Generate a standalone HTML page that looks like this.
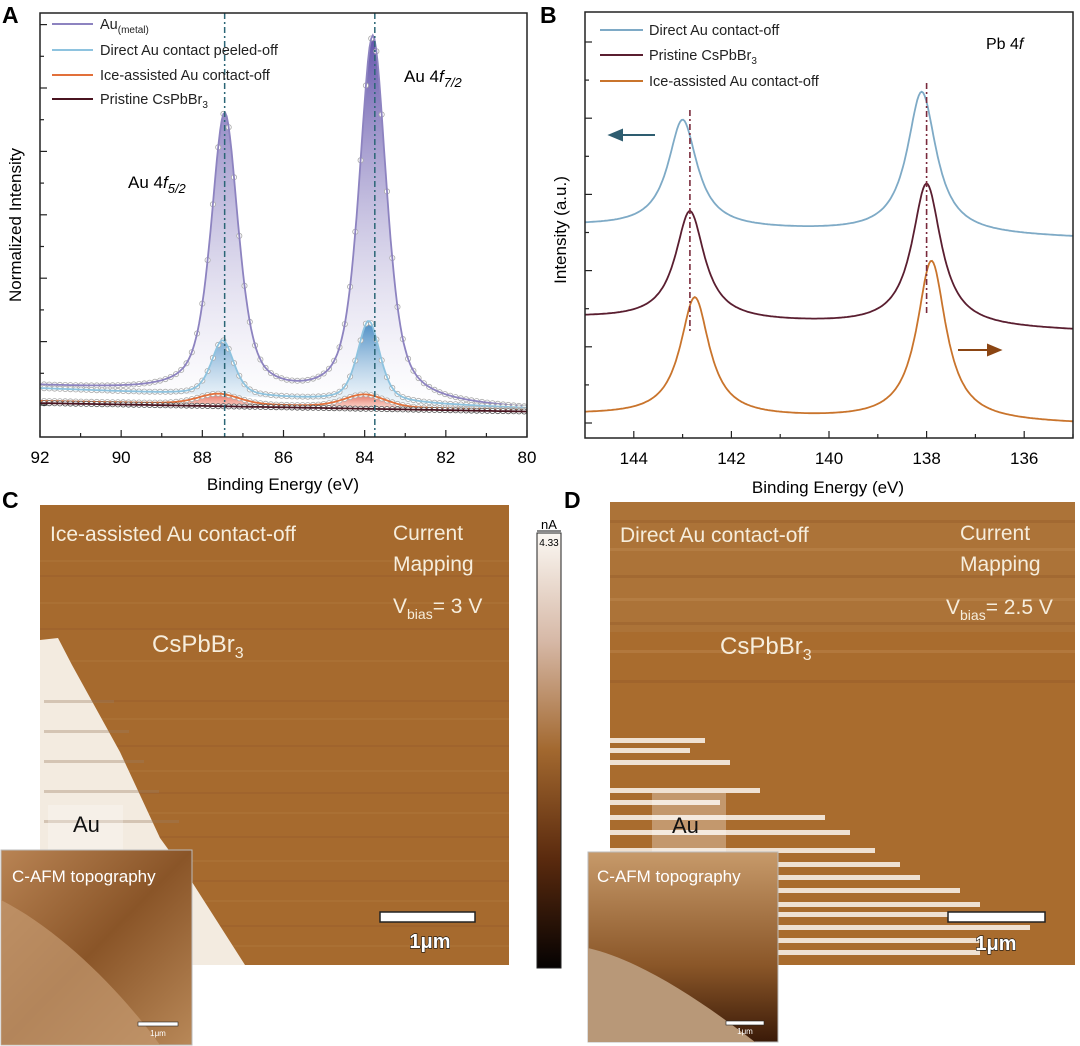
<!DOCTYPE html>
<html><head><meta charset="utf-8"><style>
html,body{margin:0;padding:0;background:#fff;}
svg{display:block;font-family:"Liberation Sans",sans-serif;}
</style></head><body>
<svg id="fig" width="1080" height="1046" viewBox="0 0 1080 1046">
<defs>
<linearGradient id="gPur" x1="0" y1="0" x2="0" y2="1"><stop offset="0" stop-color="#5a4aa6" stop-opacity="0.95"/><stop offset="1" stop-color="#ffffff" stop-opacity="0.3"/></linearGradient>
<linearGradient id="gBlu" x1="0" y1="0" x2="0" y2="1"><stop offset="0" stop-color="#3f86c0" stop-opacity="0.95"/><stop offset="1" stop-color="#e8f4fb" stop-opacity="0.4"/></linearGradient>
<linearGradient id="gRed" x1="0" y1="0" x2="0" y2="1"><stop offset="0" stop-color="#e8604a" stop-opacity="0.9"/><stop offset="1" stop-color="#f6c8bc" stop-opacity="0.6"/></linearGradient>
<linearGradient id="gCbar" x1="0" y1="0" x2="0" y2="1"><stop offset="0" stop-color="#fbf8f3"/><stop offset="0.25" stop-color="#d6b8a6"/><stop offset="0.5" stop-color="#a2682f"/><stop offset="0.75" stop-color="#5a2a0e"/><stop offset="1" stop-color="#050202"/></linearGradient>
<linearGradient id="gInC" x1="0" y1="0" x2="1" y2="1"><stop offset="0" stop-color="#b98454"/><stop offset="0.5" stop-color="#8a5528"/><stop offset="1" stop-color="#b88858"/></linearGradient>
<linearGradient id="gInD" x1="0" y1="0" x2="0" y2="1"><stop offset="0" stop-color="#c79a6a"/><stop offset="0.6" stop-color="#8a5628"/><stop offset="1" stop-color="#3a1a08"/></linearGradient>
</defs>

<text x="2" y="23" font-size="23" font-weight="bold">A</text>
<text x="540" y="23" font-size="23" font-weight="bold">B</text>
<text x="2" y="508" font-size="23" font-weight="bold">C</text>
<text x="564" y="508" font-size="23" font-weight="bold">D</text>

<g id="panelA"></g>
<g id="panelB"></g>

<g>
  <rect x="40" y="505" width="469" height="460" fill="#a66a2e"/>
  <g id="cStreaks"></g>
  <polygon points="40,640 58,638 72,665 120,752 160,838 192,882 245,965 40,965" fill="#f3ebe0"/>
  <g id="cDots"></g>
  <rect x="48" y="805" width="75" height="52" fill="#ffffff" opacity="0.25"/>
  <text x="73" y="832" font-size="22" fill="#111">Au</text>
  <text x="50" y="541" font-size="21" fill="#f6eddc">Ice-assisted Au contact-off</text>
  <text x="393" y="540" font-size="21" fill="#f6eddc">Current</text>
  <text x="393" y="571" font-size="21" fill="#f6eddc">Mapping</text>
  <text x="393" y="613" font-size="21" fill="#f6eddc">V<tspan font-size="14" dy="6">bias</tspan><tspan dy="-6">= 3 V</tspan></text>
  <text x="152" y="652" font-size="24" fill="#f6eddc">CsPbBr<tspan font-size="16" dy="6">3</tspan></text>
  <rect x="380" y="912" width="95" height="10" fill="#fff" stroke="#222" stroke-width="1.5"/>
  <text x="430" y="948" font-size="20" font-weight="bold" fill="#fff" stroke="#111" stroke-width="1.2" paint-order="stroke" text-anchor="middle">1μm</text>
  <rect x="1" y="850" width="191" height="195" fill="url(#gInC)" stroke="#bbb"/>
  <path d="M1,900 C60,930 120,990 160,1045 L1,1045 Z" fill="#c49a70" opacity="0.7"/>
  <text x="12" y="882" font-size="17" fill="#fff">C-AFM topography</text>
  <rect x="138" y="1022" width="40" height="4" fill="#fff" stroke="#222" stroke-width="0.6"/>
  <text x="158" y="1036" font-size="8" fill="#fff" text-anchor="middle">1μm</text>
</g>

<g>
  <rect x="537" y="533" width="24" height="435" fill="url(#gCbar)" stroke="#222" stroke-width="1"/>
  <text x="549" y="529" font-size="13" text-anchor="middle">nA</text>
  <line x1="537" y1="531" x2="561" y2="531" stroke="#111"/>
  <text x="549" y="546" font-size="10" text-anchor="middle">4.33</text>
</g>

<g>
  <rect x="610" y="502" width="465" height="463" fill="#a96c2e"/>
  <rect x="610" y="502" width="465" height="130" fill="#b07a42" opacity="0.5"/>
  <g id="dStreaks"></g>
  <rect x="652" y="793" width="74" height="60" fill="#ffffff" opacity="0.3"/>
  <text x="672" y="833" font-size="22" fill="#111">Au</text>
  <text x="620" y="542" font-size="21" fill="#f6eddc">Direct Au contact-off</text>
  <text x="960" y="540" font-size="21" fill="#f6eddc">Current</text>
  <text x="960" y="571" font-size="21" fill="#f6eddc">Mapping</text>
  <text x="946" y="614" font-size="21" fill="#f6eddc">V<tspan font-size="14" dy="6">bias</tspan><tspan dy="-6">= 2.5 V</tspan></text>
  <text x="720" y="654" font-size="24" fill="#f6eddc">CsPbBr<tspan font-size="16" dy="6">3</tspan></text>
  <rect x="948" y="912" width="97" height="10" fill="#fff" stroke="#222" stroke-width="1.5"/>
  <text x="996" y="950" font-size="20" font-weight="bold" fill="#fff" stroke="#111" stroke-width="1.2" paint-order="stroke" text-anchor="middle">1μm</text>
  <rect x="588" y="852" width="190" height="190" fill="url(#gInD)" stroke="#bbb"/>
  <path d="M588,948 C640,960 700,1000 755,1042 L588,1042 Z" fill="#b89878"/>
  <text x="597" y="882" font-size="17" fill="#fff">C-AFM topography</text>
  <rect x="726" y="1021" width="38" height="4" fill="#fff" stroke="#222" stroke-width="0.6"/>
  <text x="745" y="1034" font-size="8" fill="#fff" text-anchor="middle">1μm</text>
</g>
</svg>
<script>
// ---------- Panel A data (Au 4f) ----------
const aSeriesNames = ["Au(metal)", "Direct Au contact peeled-off", "Ice-assisted Au contact-off", "Pristine CsPbBr3"];
const aPeakCenters = [[87.45, 83.8], [87.5, 83.9], [87.6, 84.0], [87.5, 84.0]];
const aPeakHeights = [[0.66, 0.86], [0.13, 0.19], [0.025, 0.03], [0, 0]];
const aPeakWidths = [[0.4, 0.4], [0.33, 0.33], [0.6, 0.6], [0.5, 0.5]];
const aLorentzFrac = [0.6, 0.5, 0.3, 0.3];
const aBaseLeft = [0.12, 0.115, 0.085, 0.08];
const aBaseRight = [0.065, 0.068, 0.063, 0.06];
const aXTicks = [92, 90, 88, 86, 84, 82, 80];
const aMarkers = [87.45, 83.75];
// ---------- Panel B data (Pb 4f) ----------
const bSeriesNames = ["Direct Au contact-off", "Pristine CsPbBr3", "Ice-assisted Au contact-off"];
const bPeakCenters = [[143.0, 138.1], [142.85, 138.0], [142.75, 137.9]];
const bPeakHeights = [[108, 142], [109, 143], [119, 160]];
const bPeakWidths = [[0.36, 0.36], [0.36, 0.36], [0.36, 0.36]];
const bBaseLeft = [212, 120, 23];
const bBaseRight = [200, 107, 14];
const bXTicks = [144, 142, 140, 138, 136];
const bMarkers = [142.85, 138.0];

const NS = "http://www.w3.org/2000/svg";
function mk(parent, tag, attrs) {
  const e = document.createElementNS(NS, tag);
  for (const k in attrs) e.setAttribute(k, attrs[k]);
  parent.appendChild(e);
  return e;
}
function model(v, centers, heights, widths, bl, br, x0, x1, eta) {
  if (eta === undefined) eta = 1;
  let b = bl + (br - bl) * (x0 - v) / (x0 - x1);
  for (let i = 0; i < centers.length; i++) {
    const d = (v - centers[i]) / widths[i];
    b += heights[i] * (eta / (1 + d * d) + (1 - eta) * Math.exp(-0.693 * d * d));
  }
  return b;
}

// ---------- Panel A ----------
(function () {
  const g = document.getElementById('panelA');
  const L = 40, R = 527, T = 13, B = 437;
  const xA = v => L + (92 - v) / 12 * (R - L);
  const yA = i => B - i * (B - T);
  const colors = ["#8d83c0", "#8ec3df", "#e2703a", "#4a1420"];
  const fills = ["url(#gPur)", "url(#gBlu)", "url(#gRed)", "none"];
  for (let s = 0; s < aSeriesNames.length; s++) {
    const f_ = v => model(v, aPeakCenters[s], aPeakHeights[s], aPeakWidths[s], aBaseLeft[s], aBaseRight[s], 92, 80, aLorentzFrac[s]);
    let pts = [];
    for (let v = 92; v >= 79.99; v -= 0.04) pts.push([xA(v), yA(f_(v))]);
    const d = "M" + pts.map(p => p[0].toFixed(1) + "," + p[1].toFixed(1)).join("L");
    if (fills[s] !== "none") {
      const base = "L" + xA(80) + "," + yA(aBaseRight[s]) + "L" + xA(92) + "," + yA(aBaseLeft[s]) + "Z";
      const f = mk(g, 'path', { d: d + base, fill: fills[s], stroke: "none" });
      
      
    }
    for (let v = 91.9; v > 80; v -= 0.13) {
      const c = mk(g, 'circle', { cx: xA(v).toFixed(1), cy: yA(f_(v)).toFixed(1), r: 2.6, fill: "#fff", stroke: s === 3 ? "#555" : "#aaa", "stroke-width": 0.8 });
      
      
    }
    const p = mk(g, 'path', { d: d, fill: "none", stroke: colors[s], "stroke-width": 1.8 });
    
    
  }
  for (const m of aMarkers) {
    const l = mk(g, 'line', { x1: xA(m), x2: xA(m), y1: T, y2: B, stroke: "#2b6676", "stroke-width": 1.5, "stroke-dasharray": "6,3,2,3" });
    
    
  }
  const frame = mk(g, 'rect', { x: L, y: T, width: R - L, height: B - T, fill: "none", stroke: "#222", "stroke-width": 1.5 });
  
  
  for (let k = 0; k < 13; k++) {
    const y = 405 - k * 31.7;
    const t = mk(g, 'line', { x1: L, x2: L + (k % 2 ? 4 : 7), y1: y, y2: y, stroke: "#222", "stroke-width": 1.2 });
    
    
  }
  for (let v = 92; v >= 80; v -= 1) {
    const t = mk(g, 'line', { x1: xA(v), x2: xA(v), y1: B, y2: B - (v % 2 ? 4 : 7), stroke: "#222", "stroke-width": 1.2 });
    
    
  }
  for (const v of aXTicks) {
    const t = mk(g, 'text', { x: xA(v), y: 463, "font-size": 17, "text-anchor": "middle" });
    t.textContent = v;
    
    
  }
  const xt = mk(g, 'text', { x: 283, y: 490, "font-size": 17, "text-anchor": "middle" });
  xt.textContent = "Binding Energy (eV)";
  
  
  const yt = mk(g, 'text', { x: 0, y: 0, "font-size": 17, "text-anchor": "middle", transform: "translate(21,225) rotate(-90)" });
  yt.textContent = "Normalized Intensity";
  
  
  const legYs = [29, 55, 80, 104];
  for (let s = 0; s < 4; s++) {
    const l = mk(g, 'line', { x1: 52, x2: 93, y1: legYs[s] - 5, y2: legYs[s] - 5, stroke: colors[s], "stroke-width": 2 });
    
    
    const t = mk(g, 'text', { x: 100, y: legYs[s], "font-size": 14.5, fill: "#222" });
    
    
    if (s === 0) t.innerHTML = 'Au<tspan font-size="10" dy="4">(metal)</tspan>';
    else if (s === 3) t.innerHTML = 'Pristine CsPbBr<tspan font-size="10" dy="4">3</tspan>';
    else t.textContent = aSeriesNames[s];
  }
  const l1 = mk(g, 'text', { x: 128, y: 188, "font-size": 17 });
  l1.innerHTML = 'Au 4<tspan font-style="italic">f</tspan><tspan font-style="italic" font-size="13" dy="5">5/2</tspan>';
  
  
  const l2 = mk(g, 'text', { x: 404, y: 82, "font-size": 17 });
  l2.innerHTML = 'Au 4<tspan font-style="italic">f</tspan><tspan font-style="italic" font-size="13" dy="5">7/2</tspan>';
  
  
})();

// ---------- Panel B ----------
(function () {
  const g = document.getElementById('panelB');
  const L = 585, R = 1073, T = 12, B = 438;
  const xB = v => L + (145 - v) * (R - L) / 10;
  const yB = i => B - i;
  const colors = ["#7eaac6", "#5a1e30", "#c9742c"];
  for (let s = 0; s < bSeriesNames.length; s++) {
    let pts = [];
    for (let v = 145; v >= 134.99; v -= 0.03) pts.push(xB(v).toFixed(1) + "," + yB(model(v, bPeakCenters[s], bPeakHeights[s], bPeakWidths[s], bBaseLeft[s], bBaseRight[s], 145, 135)).toFixed(1));
    const p = mk(g, 'path', { d: "M" + pts.join("L"), fill: "none", stroke: colors[s], "stroke-width": 1.8 });
    
    
  }
  const mY = [[110, 333], [83, 315]];
  bMarkers.forEach((m, i) => {
    const l = mk(g, 'line', { x1: xB(m), x2: xB(m), y1: mY[i][0], y2: mY[i][1], stroke: "#7a2a3c", "stroke-width": 1.6, "stroke-dasharray": "6,3,2,3" });
    
    
  });
  const frame = mk(g, 'rect', { x: L, y: T, width: R - L, height: B - T, fill: "none", stroke: "#222", "stroke-width": 1.5 });
  
  
  for (let k = 0; k < 11; k++) {
    const y = 423 - k * 38.1;
    const t = mk(g, 'line', { x1: L, x2: L + (k % 2 ? 4 : 7), y1: y, y2: y, stroke: "#222", "stroke-width": 1.2 });
    
    
  }
  for (let v = 144; v >= 135; v -= 1) {
    const t = mk(g, 'line', { x1: xB(v), x2: xB(v), y1: B, y2: B - (v % 2 ? 4 : 7), stroke: "#222", "stroke-width": 1.2 });
    
    
  }
  for (const v of bXTicks) {
    const t = mk(g, 'text', { x: xB(v), y: 464, "font-size": 17, "text-anchor": "middle" });
    t.textContent = v;
    
    
  }
  const xt = mk(g, 'text', { x: 828, y: 493, "font-size": 17, "text-anchor": "middle" });
  xt.textContent = "Binding Energy (eV)";
  
  
  const yt = mk(g, 'text', { x: 0, y: 0, "font-size": 17, "text-anchor": "middle", transform: "translate(566,230) rotate(-90)" });
  yt.textContent = "Intensity (a.u.)";
  
  
  const legYs = [35, 60, 86];
  for (let s = 0; s < 3; s++) {
    const l = mk(g, 'line', { x1: 600, x2: 643, y1: legYs[s] - 5, y2: legYs[s] - 5, stroke: colors[s], "stroke-width": 2 });
    
    
    const t = mk(g, 'text', { x: 649, y: legYs[s], "font-size": 14.5, fill: "#222" });
    
    
    if (s === 1) t.innerHTML = 'Pristine CsPbBr<tspan font-size="10" dy="4">3</tspan>';
    else t.textContent = bSeriesNames[s];
  }
  const pb = mk(g, 'text', { x: 986, y: 49, "font-size": 16 });
  pb.innerHTML = 'Pb 4<tspan font-style="italic">f</tspan>';
  
  
  const a1 = mk(g, 'path', { d: "M655,135 L620,135 M610,135 L622,130 L622,140 Z", stroke: "#2e5d70", fill: "#2e5d70", "stroke-width": 2 });
  
  
  const a2 = mk(g, 'path', { d: "M958,350 L990,350 M1000,350 L988,345 L988,355 Z", stroke: "#8b4513", fill: "#8b4513", "stroke-width": 2 });
  
  
})();

// ---------- map streak textures (decorative) ----------
(function () {
  const c = document.getElementById('cStreaks');
  const cRows = [560, 575, 602, 628, 660, 700, 718, 745, 770, 792, 812, 836, 860, 880, 900, 925, 945];
  cRows.forEach((y, i) => {
    const r = mk(c, 'rect', { x: 40, y: y, width: 469, height: 2, fill: i % 2 ? "#94592a" : "#b27a40", opacity: 0.35 });
    
    
  });
  const cd = document.getElementById('cDots');
  const dotRows = [[700, 70], [730, 85], [760, 100], [790, 115], [820, 135]];
  dotRows.forEach(r => {
    const e = mk(cd, 'rect', { x: 44, y: r[0], width: r[1], height: 3, fill: "#9c7a5e", opacity: 0.35 });
    
    
  });
  const d = document.getElementById('dStreaks');
  const dRows = [[610, 738, 95], [610, 748, 80], [610, 760, 120], [610, 788, 150], [610, 800, 110], [610, 815, 215], [610, 830, 240], [610, 848, 265], [610, 862, 290], [620, 875, 300], [640, 888, 320], [680, 902, 300], [620, 912, 380], [640, 925, 390], [620, 938, 360], [700, 950, 280]];
  dRows.forEach(r => {
    const e = mk(d, 'rect', { x: r[0], y: r[1], width: r[2], height: 5, fill: "#fbf6ee", opacity: 0.85 });
    
    
  });
  const dt = [520, 548, 575, 598, 622, 650, 680];
  dt.forEach((y, i) => {
    const e = mk(d, 'rect', { x: 610, y: y, width: 465, height: 3, fill: i % 2 ? "#c08c56" : "#93592a", opacity: 0.4 });
    
    
  });
})();
</script>
</body></html>
